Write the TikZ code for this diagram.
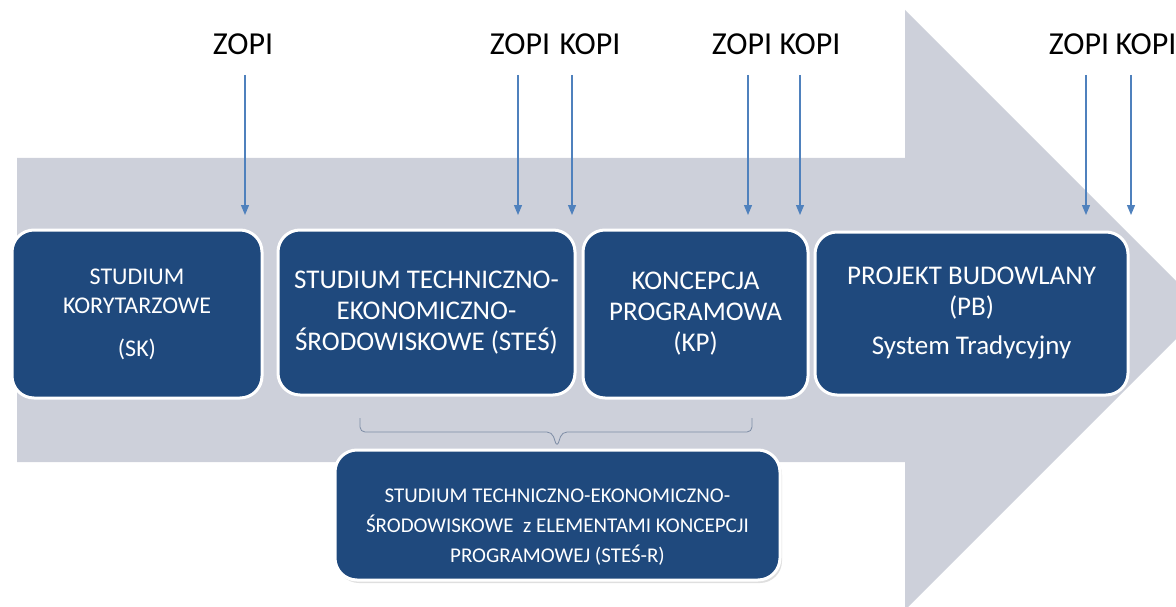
\documentclass[tikz,border=0pt]{standalone}
\usepackage{fontspec}
\setmainfont{Carlito}
\usepackage{tikz}
\usetikzlibrary{positioning,shapes,shadows,arrows}
\usetikzlibrary{arrows.meta}
\definecolor{phaseblue}{RGB}{31,73,125}
\definecolor{bandgrey}{RGB}{205,208,218}
\definecolor{markblue}{RGB}{79,129,189}
\definecolor{bracegrey}{RGB}{125,140,165}
\tikzstyle{phase}=[rectangle, rounded corners=22pt, fill=phaseblue, draw=white, line width=3pt, text=white, align=center, font=\fontsize{27}{31}\selectfont]
\tikzstyle{milestone}=[text=black, font=\fontsize{32}{36}\selectfont, inner sep=0pt]
\tikzset{>={Triangle[width=8pt,length=10pt]}}

\begin{document}
\begin{tikzpicture}[x=1pt,y=-1pt]
    \useasboundingbox (0,0) rectangle (1176,607);
    \clip (0,0) rectangle (1176,607);

        % grey arrow in the background
        \fill[bandgrey] (17,158) -- (905,158) -- (905,10) -- (1205,310) -- (905,610) -- (905,462) -- (17,462) -- cycle;

        \node(sk)[phase, minimum width=250pt, minimum height=168pt, font=\fontsize{24}{29}\selectfont] at (137,314) {STUDIUM\\KORYTARZOWE\\[14pt](SK)};
        \node(stes)[phase, minimum width=297pt, minimum height=165pt] at (426.5,312.5) {STUDIUM TECHNICZNO-\\EKONOMICZNO-\\ŚRODOWISKOWE (STEŚ)};
        \node(kp)[phase, minimum width=225pt, minimum height=168pt] at (695.5,314) {KONCEPCJA\\PROGRAMOWA\\(KP)};
        \node(pb)[phase, minimum width=313pt, minimum height=163pt] at (971.5,313.5) {PROJEKT BUDOWLANY\\(PB)\\[8pt]System Tradycyjny};

        \node(stesr)[phase, minimum width=445pt, minimum height=130pt, font=\fontsize{21}{30}\selectfont, drop shadow={opacity=0.25, shadow xshift=2pt, shadow yshift=-3pt}] at (557.5,515) {\rule{0pt}{37pt}STUDIUM TECHNICZNO-EKONOMICZNO-\\ŚRODOWISKOWE\ \ z ELEMENTAMI KONCEPCJI\\PROGRAMOWEJ (STEŚ-R)};

        % bracket over STES and KP
        \draw [bracegrey, line width=0.8pt, rounded corners=5pt] (360,418) |- (552,432) -- (557,447) -- (562,432) -| (752,418);

        \foreach \x/\t [count=\i] in {243/ZOPI, 520/ZOPI, 590/KOPI, 742/ZOPI, 810/KOPI, 1079/ZOPI, 1146/KOPI}{
            \node(label\i)[milestone] at (\x,44) {\t};
        };

        \foreach \x [count=\i] in {245,518,572,748,800,1086,1131}{
            \coordinate (from\i) at (\x,75);
            \coordinate (to\i) at (\x,215);
            \draw [->, markblue, line width=1.2pt] (from\i) -- (to\i);
        };

    \end{tikzpicture}
\end{document}
